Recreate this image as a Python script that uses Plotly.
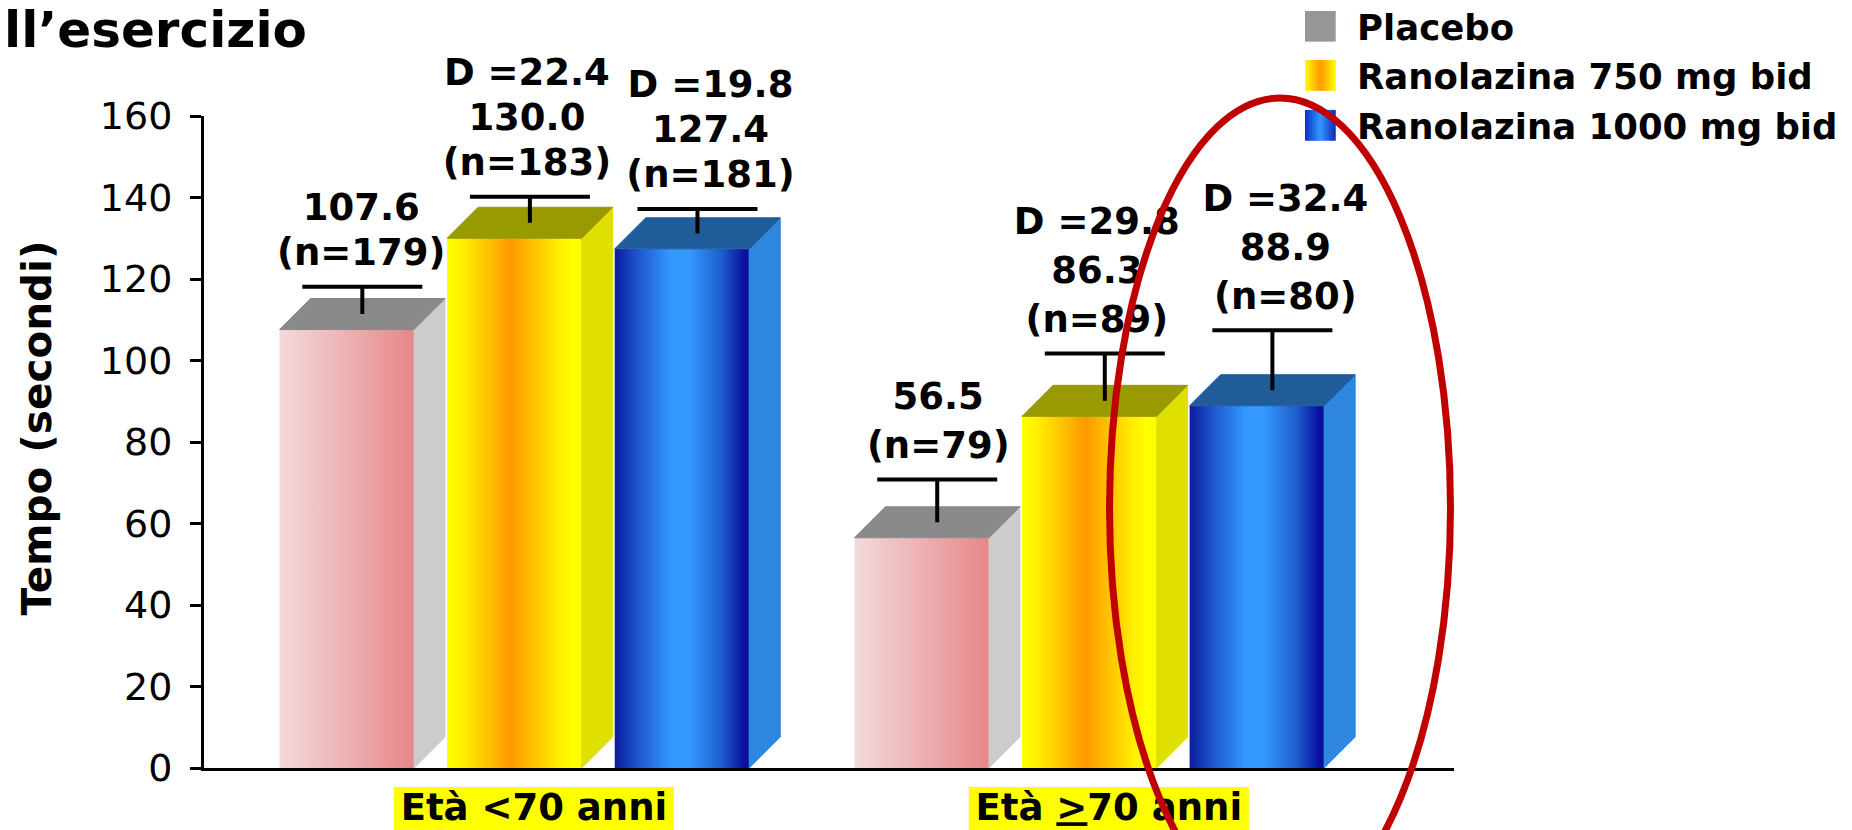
import plotly.graph_objects as go

# ---- data -------------------------------------------------------------
groups = ["Età &lt;70 anni", "Età <u>&gt;</u>70 anni"]
series = ["Placebo", "Ranolazina 750 mg bid", "Ranolazina 1000 mg bid"]

placebo = [107.6, 56.5]
rano_750 = [130.0, 86.3]
rano_1000 = [127.4, 88.9]

err_placebo = [6.7, 10.5]
err_750 = [6.4, 11.6]
err_1000 = [6.0, 14.7]

n_placebo = [179, 79]
n_750 = [183, 89]
n_1000 = [181, 80]

y_ticks = [0, 20, 40, 60, 80, 100, 120, 140, 160]
y_title = "Tempo (secondi)"
title_text = "ll’esercizio"

values = [placebo, rano_750, rano_1000]
errors = [err_placebo, err_750, err_1000]
counts = [n_placebo, n_750, n_1000]

# ---- geometry / style (paper = whole page) ------------------------------
W, H = 1852, 830
PLOT_L, PLOT_R = 204, 1454          # x-axis extent in pixels
PLOT_T, AXIS_Y_PX = 116, 768        # rows of 160 and of 0
PX_PER_X = 574.9
X_MIN = -(514.4 - PLOT_L) / PX_PER_X
X_MAX = X_MIN + (PLOT_R - PLOT_L) / PX_PER_X
Y_MAX = 160
PX_PER_Y = (AXIS_Y_PX - PLOT_T) / Y_MAX

SLOT = 0.2915           # distance between neighbouring bars
HALF_W = 67.25 / PX_PER_X
DEPTH_PX = 31
DX = DEPTH_PX / PX_PER_X
DY = DEPTH_PX / PX_PER_Y
CAP_HALF = 60 / PX_PER_X
LABEL_GAP_PX = 31                   # cap -> anchor of the lowest label line
LINE_STEP_PX = [45, 49]             # label line spacing per group
LABEL_NUDGE_PX = [[-1, -3, 13], [1, -8, 13]]
CAT_LABEL_ROW = 19                  # band units (px above page bottom)

FONT = "DejaVu Sans"
LABEL_SIZE = 37

front_scales = [
    [[0, "#F4DADB"], [1, "#E68789"]],
    [[0, "#FFFF00"], [0.12, "#FFEE00"], [0.47, "#FF9900"], [0.82, "#FFEC00"],
     [0.92, "#FFFF00"], [1, "#FFFF00"]],
    [[0, "#0A1C9E"], [0.18, "#2058D0"], [0.42, "#3399FF"], [0.55, "#3399FF"],
     [0.8, "#1E5CCB"], [0.96, "#0A10A0"], [1, "#0A10A0"]],
]
side_colors = ["#CCCCCC", "#E0E000", "#2E86DE"]
top_colors = ["#8A8A8A", "#999900", "#1F5C99"]
legend_scales = [
    [[0, "#969696"], [1, "#969696"]],
    [[0, "#FFFF00"], [0.5, "#FF9900"], [1, "#FFFF00"]],
    [[0, "#0A30C0"], [0.5, "#3399FF"], [1, "#0A28B8"]],
]


def px_x(px):
    return px / W


def px_y(py):
    return (H - py) / H


def hex_mix(scale, t):
    for (t0, c0), (t1, c1) in zip(scale[:-1], scale[1:]):
        if t0 <= t <= t1:
            f = 0 if t1 == t0 else (t - t0) / (t1 - t0)
            a = [int(c0[i:i + 2], 16) for i in (1, 3, 5)]
            b = [int(c1[i:i + 2], 16) for i in (1, 3, 5)]
            return "#" + "".join(f"{round(a[k] + (b[k] - a[k]) * f):02X}" for k in range(3))
    return scale[-1][1]


fig = go.Figure()

# ---- 3D bars ----------------------------------------------------------
centers = []
for s, vals in enumerate(values):
    for g, v in enumerate(vals):
        cx = g + (s - 1) * SLOT
        xl, xr = cx - HALF_W, cx + HALF_W
        centers.append((s, g, cx, v))
        fig.add_trace(go.Scatter(
            x=[xl, xr, xr, xl, xl], y=[0, 0, v, v, 0],
            mode="lines", fill="toself", line=dict(width=0),
            fillgradient=dict(type="horizontal", colorscale=front_scales[s]),
            hoverinfo="skip", showlegend=False))
        fig.add_trace(go.Scatter(
            x=[xr, xr + DX, xr + DX, xr, xr], y=[0, DY, v + DY, v, 0],
            mode="lines", fill="toself", fillcolor=side_colors[s],
            line=dict(width=1, color=side_colors[s]),
            hoverinfo="skip", showlegend=False))
        fig.add_trace(go.Scatter(
            x=[xl, xl + DX, xr + DX, xr, xl], y=[v, v + DY, v + DY, v, v],
            mode="lines", fill="toself", fillcolor=top_colors[s],
            line=dict(width=1, color=top_colors[s]),
            hoverinfo="skip", showlegend=False))

# ---- error bars (drawn at mid depth) -----------------------------------
ex, ey = [], []
for s, g, cx, v in centers:
    e = errors[s][g]
    bx = cx + DX / 2
    base = v + DY / 2
    ex += [bx, bx, None, bx - CAP_HALF, bx + CAP_HALF, None]
    ey += [base, base + e, None, base + e, base + e, None]
fig.add_trace(go.Scatter(x=ex, y=ey, mode="lines",
                         line=dict(color="black", width=4),
                         hoverinfo="skip", showlegend=False))

# ---- value labels on a taller axis with the same scale -------------------
lx, ly, lt = [], [], []
for s, g, cx, v in centers:
    cap = v + DY / 2 + errors[s][g]
    lines = [f"(n={counts[s][g]})", f"{v:.1f}"]
    if s > 0:
        lines.append(f"D ={v - values[0][g]:.1f}")
    x = cx + DX / 2 + LABEL_NUDGE_PX[g][s] / PX_PER_X
    for k, line in enumerate(lines):
        lx.append(x)
        ly.append(cap + (LABEL_GAP_PX + k * LINE_STEP_PX[g]) / PX_PER_Y)
        lt.append(line)
fig.add_trace(go.Scatter(
    x=lx, y=ly, text=lt, mode="text", textposition="middle center", yaxis="y3",
    textfont=dict(family=FONT, size=LABEL_SIZE, color="black", weight="bold"),
    cliponaxis=False, hoverinfo="skip", showlegend=False))

# ---- category labels in the band under the axis -------------------------
cat_x = [g + DX / 2 + 4 / PX_PER_X for g in range(len(groups))]
fig.add_trace(go.Scatter(
    x=cat_x, y=[CAT_LABEL_ROW] * len(groups), text=groups, yaxis="y2",
    mode="text", textposition="middle center",
    textfont=dict(family=FONT, size=37, color="black", weight="bold"),
    cliponaxis=False, hoverinfo="skip", showlegend=False))

shapes = []
for x in cat_x:
    shapes.append(dict(type="rect", xref="x", yref="y2", layer="below",
                       x0=x - 140 / PX_PER_X, x1=x + 140 / PX_PER_X,
                       y0=0, y1=H - 787,
                       fillcolor="#FFFF00", line=dict(width=0)))

# ---- legend -------------------------------------------------------------
annotations = []
row_centers = [26.3, 75.3, 125.3]
SW = 30.7
SW_X0 = 1305
for s, name in enumerate(series):
    cy = row_centers[s]
    strips = 1 if s == 0 else 18
    for k in range(strips):
        t = (k + 0.5) / strips
        x1 = SW_X0 + SW * (k + 1) / strips + (1.2 if k < strips - 1 else 0)
        shapes.append(dict(type="rect", xref="paper", yref="paper", layer="above",
                           x0=px_x(SW_X0 + SW * k / strips), x1=px_x(x1),
                           y0=px_y(cy + SW / 2), y1=px_y(cy - SW / 2),
                           fillcolor=hex_mix(legend_scales[s], t), line=dict(width=0)))
    annotations.append(dict(text=name, xref="paper", yref="paper",
                            x=px_x(1355), y=px_y(cy + 1), xanchor="left", yanchor="middle",
                            showarrow=False,
                            font=dict(family=FONT, size=35.5, color="black", weight="bold")))

# ---- red ellipse around the >=70 / 1000 mg group -------------------------
shapes.append(dict(type="circle", xref="paper", yref="paper", layer="above",
                   x0=px_x(1109.5), x1=px_x(1450.5), y0=px_y(918), y1=px_y(98),
                   line=dict(color="#C00000", width=7)))

# ---- axis title and slide title ------------------------------------------
annotations.append(dict(text=y_title, xref="paper", yref="paper",
                        x=px_x(36), y=px_y(428.5), textangle=-90,
                        xanchor="center", yanchor="middle", showarrow=False,
                        font=dict(family=FONT, size=40.5, color="black", weight="bold")))
annotations.append(dict(text=title_text, xref="paper", yref="paper",
                        x=px_x(2), y=px_y(30), xanchor="left", yanchor="middle",
                        showarrow=False,
                        font=dict(family=FONT, size=50, color="black", weight="bold")))

fig.update_layout(
    width=W, height=H,
    margin=dict(l=0, r=0, t=0, b=0, pad=0, autoexpand=False),
    paper_bgcolor="white", plot_bgcolor="rgba(0,0,0,0)",
    showlegend=False,
    xaxis=dict(domain=[px_x(PLOT_L), px_x(PLOT_R)], range=[X_MIN, X_MAX], anchor="y",
               showline=True, linecolor="black", linewidth=3, showticklabels=False,
               ticks="", showgrid=False, zeroline=False, fixedrange=True,
               automargin=False),
    yaxis=dict(domain=[px_y(AXIS_Y_PX), px_y(PLOT_T)], range=[0, Y_MAX], anchor="x",
               tickvals=y_ticks, ticks="outside", ticklen=11, tickwidth=2.5,
               tickcolor="black", showline=True, linecolor="black", linewidth=3,
               showgrid=False, zeroline=False, fixedrange=True, automargin=False,
               tickfont=dict(family=FONT, size=38, color="black"),
               ticklabelstandoff=10),
    yaxis2=dict(domain=[0, px_y(AXIS_Y_PX)], range=[0, H - AXIS_Y_PX], anchor="x",
                visible=False, fixedrange=True, automargin=False),
    yaxis3=dict(domain=[px_y(AXIS_Y_PX), 1], range=[0, AXIS_Y_PX / PX_PER_Y],
                anchor="x", visible=False, fixedrange=True, automargin=False),
    shapes=shapes,
    annotations=annotations,
)

fig.write_html("out.html", config={"displayModeBar": False})
